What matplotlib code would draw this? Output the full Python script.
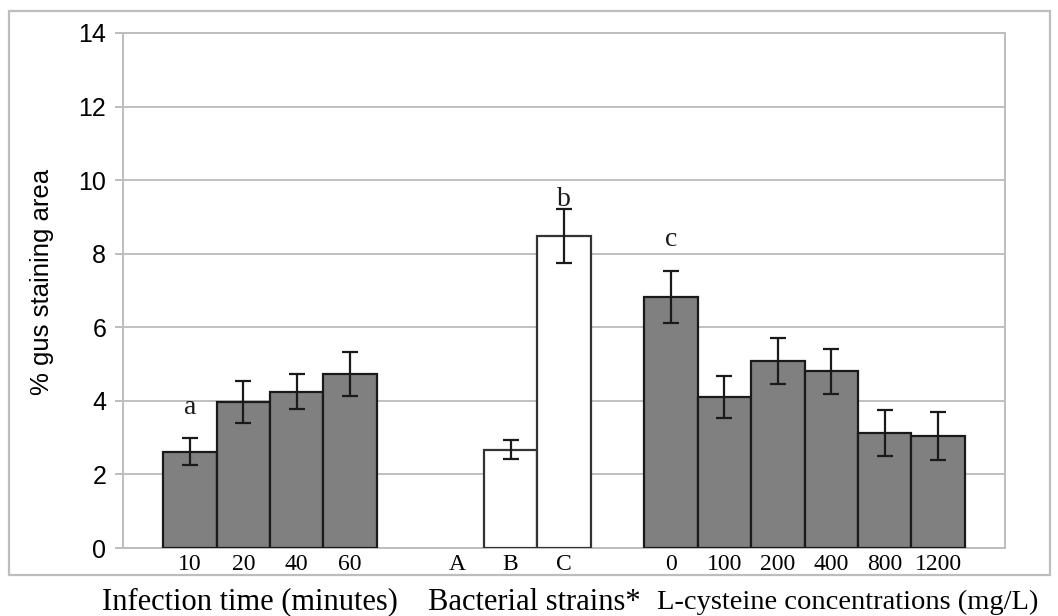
import numpy as np
import matplotlib
matplotlib.use("Agg")
import matplotlib.pyplot as plt
from matplotlib.patches import Rectangle

# ---- data ----
infection_labels = ['10', '20', '40', '60']
infection_means = [2.62, 3.98, 4.25, 4.72]
infection_err = [0.37, 0.57, 0.47, 0.60]

strain_labels = ['A', 'B', 'C']
strain_means = [np.nan, 2.67, 8.48]
strain_err = [np.nan, 0.26, 0.73]

cysteine_labels = ['0', '100', '200', '400', '800', '1200']
cysteine_means = [6.82, 4.10, 5.08, 4.81, 3.12, 3.04]
cysteine_err = [0.70, 0.57, 0.62, 0.61, 0.62, 0.65]

group_titles = ['Infection time (minutes)', 'Bacterial strains*',
                'L-cysteine concentrations (mg/L)']
letters = ['a', 'b', 'c']
letter_y = [3.83, 9.48, 8.40]

# ---- figure ----
fig = plt.figure(figsize=(10.58, 6.16), dpi=100)
ax = fig.add_axes([123/1058, 1 - 548/616, (1005-123)/1058, (548-33)/616])

groups = [
    (infection_labels, infection_means, infection_err, '#808080', '#1a1a1a'),
    (strain_labels, strain_means, strain_err, 'white', '#333333'),
    (cysteine_labels, cysteine_means, cysteine_err, '#808080', '#1a1a1a'),
]

positions_all, labels_all = [], []
group_pos = []
start = 0
for labels, means, errs, fc, ec in groups:
    pos = np.arange(start, start + len(labels))
    group_pos.append(pos)
    ax.bar(pos, means, width=1.0, color=fc, edgecolor=ec, linewidth=1.6, zorder=3)
    ax.errorbar(pos, means, yerr=errs, fmt='none', ecolor='#1a1a1a',
                elinewidth=1.6, capsize=5.5, capthick=1.6, zorder=4)
    positions_all.extend(pos)
    labels_all.extend(labels)
    start += len(labels) + 1

# significance letters
letter_x = [group_pos[0][0], group_pos[1][2], group_pos[2][0]]
for lx, ly, lt in zip(letter_x, letter_y, letters):
    ax.text(lx, ly, lt, ha='center', va='center', fontsize=20,
            family='Liberation Serif', color='#1a1a1a', zorder=5)

ax.set_xlim(-1.25, positions_all[-1] + 1.25)
ax.set_ylim(0, 14)
ax.set_yticks(np.arange(0, 15, 2))
ax.set_yticklabels([str(v) for v in range(0, 15, 2)],
                   family='Liberation Sans', fontsize=18)
ax.set_xticks(positions_all)
ax.set_xticklabels(labels_all, family='Liberation Serif', fontsize=17)
ax.tick_params(axis='x', length=0, pad=4)
ax.tick_params(axis='y', length=6, width=1.2, color='#b0b0b0', pad=6)

ax.yaxis.grid(True, color='#c0c0c0', linewidth=1.4, zorder=0)
ax.set_axisbelow(True)
for s in ax.spines.values():
    s.set_color('#bdbdbd')
    s.set_linewidth(1.4)

fig.text(42/1058, 1 - 282/616, '% gus staining area', rotation=90,
         ha='center', va='center', family='Liberation Sans', fontsize=18.5)

# group titles under the frame
fig.text(250/1058, 1 - 602/616, group_titles[0], ha='center', va='center',
         family='Liberation Serif', fontsize=22)
fig.text(534/1058, 1 - 602/616, group_titles[1], ha='center', va='center',
         family='Liberation Serif', fontsize=22)
fig.text(657/1058, 1 - 602/616, group_titles[2], ha='left', va='center',
         family='Liberation Serif', fontsize=20.5)

# outer chart frame
fig.patches.append(Rectangle((9/1058, 1 - 575/616), (1050-9)/1058, (575-11)/616,
                             transform=fig.transFigure, fill=False,
                             edgecolor='#bdbdbd', linewidth=1.6))

fig.savefig('out.png', dpi=100, facecolor='white')
